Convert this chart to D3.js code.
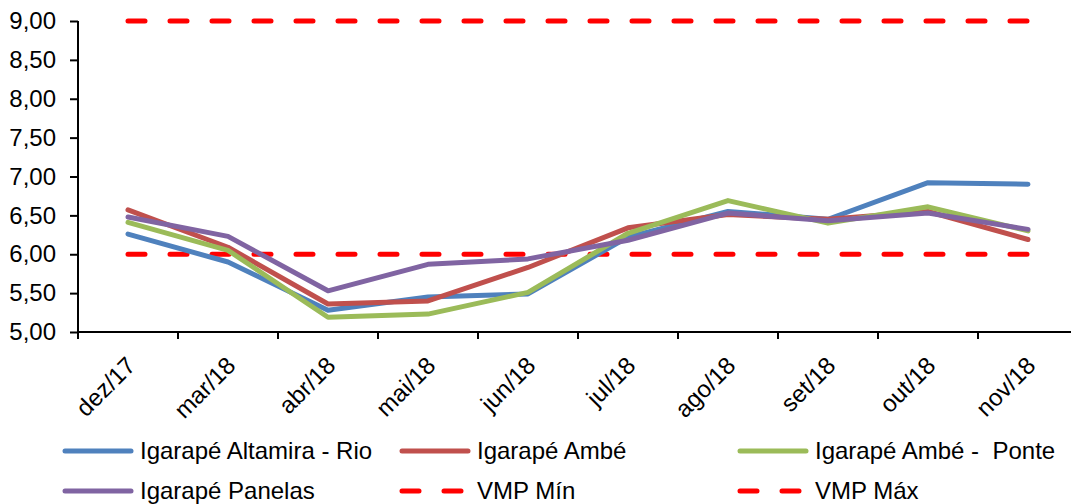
<!DOCTYPE html>
<html>
<head>
<meta charset="utf-8">
<script src="https://cdn.jsdelivr.net/npm/d3@7"></script>
<style>
  html, body { margin: 0; padding: 0; background: #fff; overflow: hidden; }
  svg text { font-family: "Liberation Sans", Arial, sans-serif; fill: #000; }
</style>
</head>
<body>
<svg id="chart" width="1071" height="504"></svg>
<script>
// Monthly pH readings per sampling point
const months = ["dez/17", "mar/18", "abr/18", "mai/18", "jun/18", "jul/18", "ago/18", "set/18", "out/18", "nov/18"];
const altamiraRio = [6.26, 5.90, 5.28, 5.45, 5.49, 6.22, 6.55, 6.45, 6.92, 6.90];
const ambe        = [6.57, 6.09, 5.36, 5.40, 5.83, 6.34, 6.51, 6.45, 6.55, 6.19];
const ambePonte   = [6.41, 6.05, 5.19, 5.23, 5.51, 6.27, 6.69, 6.40, 6.61, 6.30];
const panelas     = [6.48, 6.23, 5.53, 5.87, 5.94, 6.18, 6.53, 6.43, 6.53, 6.32];
const vmpMin = [6, 6, 6, 6, 6, 6, 6, 6, 6, 6];
const vmpMax = [9, 9, 9, 9, 9, 9, 9, 9, 9, 9];
const yTicks = [5, 5.5, 6, 6.5, 7, 7.5, 8, 8.5, 9];

const series = [
  { name: "Igarapé Altamira - Rio", values: altamiraRio, color: "#4F81BD", dashed: false },
  { name: "Igarapé Ambé",           values: ambe,        color: "#C0504D", dashed: false },
  { name: "Igarapé Ambé -  Ponte",  values: ambePonte,   color: "#9BBB59", dashed: false },
  { name: "Igarapé Panelas",        values: panelas,     color: "#8064A2", dashed: false },
  { name: "VMP Mín",                values: vmpMin,      color: "#FF0000", dashed: true },
  { name: "VMP Máx",                values: vmpMax,      color: "#FF0000", dashed: true }
];

const svg = d3.select("#chart");
const plot = { left: 78, right: 1078, top: 21, bottom: 332 };
const fontSize = 24;

const x = d3.scaleBand().domain(months).range([plot.left, plot.right]);
const y = d3.scaleLinear().domain([5, 9]).range([plot.bottom, plot.top]);
const cx = m => x(m) + x.bandwidth() / 2;

const fmt = v => d3.format(".2f")(v).replace(".", ",");

// Y axis
const yAxis = svg.append("g")
  .attr("transform", `translate(${plot.left},0)`)
  .call(d3.axisLeft(y).tickValues(yTicks).tickFormat(fmt).tickSize(8).tickPadding(14));
yAxis.select(".domain").attr("stroke", "#000").attr("stroke-width", 2).attr("d", `M0,${plot.top}V${plot.bottom}`);
yAxis.selectAll(".tick line").attr("stroke", "#000").attr("stroke-width", 2);
yAxis.selectAll(".tick text").attr("font-size", fontSize).style("font-family", '"Liberation Sans", Arial, sans-serif');

// X axis: ticks between categories
const xAxis = svg.append("g").attr("transform", `translate(0,${plot.bottom})`);
xAxis.append("line")
  .attr("x1", plot.left).attr("x2", plot.right)
  .attr("stroke", "#000").attr("stroke-width", 2);
xAxis.selectAll("line.tk")
  .data(months.concat(["end"]))
  .join("line")
  .attr("class", "tk")
  .attr("x1", (d, i) => plot.left + i * x.step())
  .attr("x2", (d, i) => plot.left + i * x.step())
  .attr("y1", 0).attr("y2", 7)
  .attr("stroke", "#000").attr("stroke-width", 2);
xAxis.selectAll("text")
  .data(months)
  .join("text")
  .attr("font-size", fontSize)
  .attr("text-anchor", "end")
  .attr("transform", d => `translate(${cx(d) + 9},${35}) rotate(-45)`)
  .text(d => d);

// Series lines
const line = d3.line()
  .x((d, i) => cx(months[i]))
  .y(d => y(d));

const order = [4, 5, 0, 1, 2, 3];
svg.append("g").selectAll("path")
  .data(order.map(i => series[i]))
  .join("path")
  .attr("d", s => line(s.values))
  .attr("fill", "none")
  .attr("stroke", s => s.color)
  .attr("stroke-width", 5)
  .attr("stroke-linecap", "round")
  .attr("stroke-linejoin", "round")
  .attr("stroke-dasharray", s => s.dashed ? "17,25" : null);

// Legend
const legendCols = [63, 400, 738];
const legendRows = [451, 491];
const legend = svg.append("g");
series.forEach((s, i) => {
  const lx = legendCols[i % 3];
  const ly = legendRows[Math.floor(i / 3)];
  legend.append("line")
    .attr("x1", lx + 2).attr("x2", lx + 68)
    .attr("y1", ly).attr("y2", ly)
    .attr("stroke", s.color)
    .attr("stroke-width", 5)
    .attr("stroke-linecap", "round")
    .attr("stroke-dasharray", s.dashed ? "17,25" : null);
  legend.append("text")
    .attr("x", lx + 77)
    .attr("y", ly + 8)
    .attr("font-size", fontSize)
    .style("white-space", "pre")
    .text(s.name);
});
</script>
</body>
</html>
